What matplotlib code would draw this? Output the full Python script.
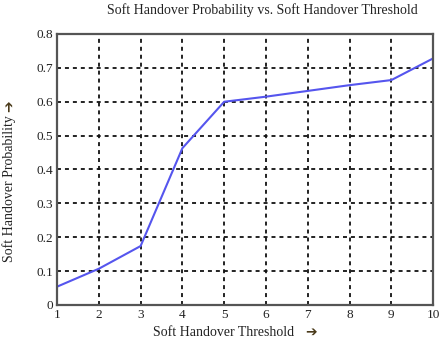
import matplotlib
matplotlib.use("Agg")
import matplotlib.pyplot as plt

thresholds = [1, 2, 3, 4, 5, 6, 7, 8, 9, 10]
probability = [0.054, 0.107, 0.174, 0.463, 0.600, 0.615, 0.632, 0.649, 0.664, 0.728]
xticks = [1, 2, 3, 4, 5, 6, 7, 8, 9, 10]
yticks = [0, 0.1, 0.2, 0.3, 0.4, 0.5, 0.6, 0.7, 0.8]
ytick_labels = ["0", "0.1", "0.2", "0.3", "0.4", "0.5", "0.6", "0.7", "0.8"]

fam = ["Liberation Serif", "DejaVu Sans"]
plt.rcParams["font.family"] = fam

fig = plt.figure(figsize=(4.42, 3.40), dpi=100)
ax = fig.add_axes([0.129, 0.103, 0.851, 0.797])
ax.plot(thresholds, probability, color="#5555ee", linewidth=1.5)
ax.set_xlim(1, 10)
ax.set_ylim(0, 0.8)
ax.set_xticks(xticks)
ax.set_yticks(yticks)
ax.set_yticklabels(ytick_labels)
ax.tick_params(direction="in", length=0, labelsize=9.5, colors="#222222", pad=3)
ax.grid(True, color="#111111", linestyle=(0, (2.2, 2.2)), linewidth=1.3)
for s in ax.spines.values():
    s.set_linewidth(1.6)
    s.set_color("#555555")

txtc = "#222222"
arrc = "#4a3a1a"
fig.text(262 / 442, 1 - 10 / 340, "Soft Handover Probability vs. Soft Handover Threshold",
         fontsize=10, color=txtc, ha="center", va="center")
fig.text(153 / 442, 1 - 332 / 340, "Soft Handover Threshold", fontsize=10, color=txtc,
         ha="left", va="center")
fig.text(305 / 442, 1 - 332 / 340, "\u2794", fontsize=10, color=arrc, ha="left", va="center",
         family="DejaVu Sans")
fig.text(9 / 442, 1 - 189 / 340, "Soft Handover Probability", fontsize=10, color=txtc,
         ha="center", va="center", rotation=90)
fig.text(9 / 442, 1 - 106 / 340, "\u2794", fontsize=10, color=arrc, ha="center", va="center",
         rotation=90, family="DejaVu Sans")
fig.savefig("out.png", dpi=100)
